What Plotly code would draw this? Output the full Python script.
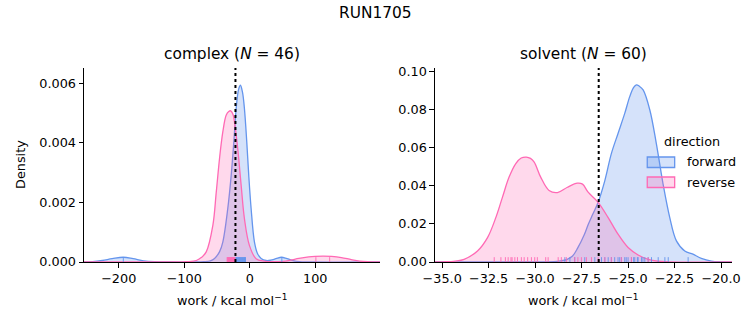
import plotly.graph_objects as go

# ---------------- data ----------------
suptitle = "RUN1705"
panel_titles = ["complex (<i>N</i> = 46)", "solvent (<i>N</i> = 60)"]
directions = ["forward", "reverse"]
legend_title = "direction"

# complex KDE curves (work, density)
cx_fwd_x = [-253, -240, -225, -210, -193, -178, -162, -145, -120, -90, -70, -60, -53.7, -46, -41.1,
            -33.5, -28.3, -24.3, -20.7, -17, -14.2, -11, -8.1, -4.5, -1.5, 2.1, 7.2, 12, 17.4,
            25, 32, 40, 48.5, 57, 66, 76, 90, 199]
cx_fwd_y = [0, 0.00001, 0.00005, 0.00011, 0.00016, 0.00011, 0.00004, 0.00001, 0, 0, 0.00001,
            0.00004, 0.00012, 0.00035, 0.00067, 0.0018, 0.00291, 0.00403, 0.00516, 0.0058,
            0.00594, 0.0057, 0.00516, 0.00403, 0.00291, 0.0018, 0.00067, 0.00028, 0.00012,
            0.00005, 0.00006, 0.00011, 0.00016, 0.00011, 0.00005, 0.00001, 0, 0]
cx_rev_x = [-253, -120, -95, -81.6, -74, -66.4, -56.3, -51.1, -46.1, -41.1, -36, -32, -28.9,
            -25.5, -23.3, -18.3, -13.1, -8.1, -0.5, 9.7, 22.4, 35, 50, 62, 75, 90, 100, 112,
            125, 140, 155, 168, 180, 199]
cx_rev_y = [0, 0, 0.00001, 0.00005, 0.00015, 0.00034, 0.00123, 0.00235, 0.00348, 0.00437,
            0.00493, 0.00506, 0.00508, 0.00496, 0.00471, 0.00381, 0.00258, 0.00146, 0.00056,
            0.00011, 0.00003, 0.00001, 0.00002, 0.00006, 0.00012, 0.00017, 0.00019, 0.0002,
            0.00019, 0.00015, 0.00008, 0.00003, 0.00001, 0]

# solvent KDE curves (work, density)
sv_fwd_x = [-35.39, -30, -29, -28.62, -28.3, -28.0, -27.7, -27.37, -27.15, -26.9, -26.61, -26.25,
            -25.9, -25.54, -25.18, -24.91, -24.7, -24.55, -24.4, -24.19, -23.83, -23.48, -23.12,
            -22.76, -22.4, -21.95, -21.51, -21.06, -20.52, -19.98, -19.41]
sv_fwd_y = [0, 0, 0.0002, 0.0006, 0.0013, 0.003, 0.0075, 0.014, 0.0195, 0.025, 0.0313, 0.0427,
            0.0568, 0.0674, 0.0779, 0.0867, 0.0915, 0.0929, 0.0922, 0.0902, 0.0797, 0.0621,
            0.041, 0.0234, 0.0111, 0.0058, 0.0041, 0.0019, 0.0005, 0.0001, 0]
sv_rev_x = [-35.39, -34.9, -34.3, -33.82, -33.1, -32.56, -32.11, -31.76, -31.4, -31.04, -30.75,
            -30.47, -30.25, -30.05, -29.7, -29.25, -28.8, -28.26, -27.73, -27.45, -27.15, -26.61,
            -26.08, -25.54, -25.0, -24.46, -23.92, -23.39, -22.8, -19.41]
sv_rev_y = [0, 0.0001, 0.0005, 0.0014, 0.0058, 0.0128, 0.0234, 0.0339, 0.0445, 0.0516, 0.0545,
            0.0550, 0.0543, 0.0524, 0.0445, 0.0375, 0.0364, 0.0392, 0.0413, 0.0408, 0.0366,
            0.0313, 0.0234, 0.0146, 0.0076, 0.0037, 0.0014, 0.0004, 0.0001, 0]

# rug values (individual work values)
cx_fwd_rug = [-193, -21.5, -20.5, -19.8, -19, -18.3, -17.5, -16.8, -16, -15.3, -14.5, -13.8, -13,
              -12.2, -11.5, -10.8, -10, -9.2, -8.5, -7.8, -7, -6.5, 49]
cx_rev_rug = [-34.5, -33.8, -33, -32.4, -31.7, -31, -30.5, -30, -29.4, -28.9, -28.3, -27.8, -27.2,
              -26.7, -26.1, -25.5, -25, -24.4, -23.8, -23.3, -22.5, 101, 122]
sv_fwd_rug = [-28.4, -28.13, -27.87, -27.33, -26.79, -26.43, -26.25, -26.07, -25.9, -25.72,
              -25.54, -25.45, -25.36, -25.18, -25.1, -25.0, -24.82, -24.7, -24.64, -24.5, -24.46,
              -24.28, -24.2, -24.1, -23.92, -23.74, -23.38, -23.02, -22.84, -21.77]
sv_rev_rug = [-32.2, -31.84, -31.6, -31.45, -31.3, -31.24, -31.09, -30.95, -30.74, -30.59, -30.4,
              -30.2, -30.02, -29.88, -29.43, -29.3, -28.76, -28.59, -28.32, -27.87, -27.7, -27.51,
              -27.24, -26.97, -26.61, -26.25, -25.9, -25.36, -24.82, -23.92]

# vertical reference lines (work)
cx_vline = -21.8
sv_vline = -26.58

# axis settings
cx_xrange = [-253, 199]
cx_yrange = [0, 0.00652]
sv_xrange = [-35.39, -19.41]
sv_yrange = [0, 0.1017]
cx_xticks = [-200, -100, 0, 100]
cx_yticks = [0, 0.002, 0.004, 0.006]
sv_xticks = [-35.0, -32.5, -30.0, -27.5, -25.0, -22.5, -20.0]
sv_yticks = [0, 0.02, 0.04, 0.06, 0.08, 0.10]

# ---------------- styling ----------------
FONT = "DejaVu Sans"
colors = {"forward": "#6495ED", "reverse": "#FF69B4"}
fills = {"forward": "rgba(100,149,237,0.27)", "reverse": "rgba(255,105,180,0.25)"}
rugcol = {"forward": "rgba(100,149,237,0.9)", "reverse": "rgba(255,105,180,0.9)"}

L, R, T, B = 84, 19, 68, 63
W, H = 753, 325
pw = W - L - R
ph = H - T - B


def px_to_paper_x(p):
    return (p - L) / pw


def px_to_paper_y(p):
    return (H - B - p) / ph


fig = go.Figure()

panels = [
    ("x", "y", {"forward": (cx_fwd_x, cx_fwd_y), "reverse": (cx_rev_x, cx_rev_y)},
     {"forward": cx_fwd_rug, "reverse": cx_rev_rug}, cx_vline),
    ("x2", "y2", {"forward": (sv_fwd_x, sv_fwd_y), "reverse": (sv_rev_x, sv_rev_y)},
     {"forward": sv_fwd_rug, "reverse": sv_rev_rug}, sv_vline),
]

shapes = []
for pi, (xa, ya, curves, rugs, vline) in enumerate(panels):
    for d in directions:
        xs, ys = curves[d]
        fig.add_trace(go.Scatter(
            x=xs, y=ys, mode="lines", xaxis=xa, yaxis=ya,
            line=dict(color=colors[d], width=1.3, shape="spline", smoothing=1.0),
            fill="tozeroy", fillcolor=fills[d], name=d, showlegend=False,
            hoverinfo="skip"))
        for v in rugs[d]:
            shapes.append(dict(type="line", xref=xa, yref=ya + " domain", x0=v, x1=v,
                               y0=0, y1=0.025, line=dict(color=rugcol[d], width=1)))
    shapes.append(dict(type="line", xref=xa, yref=ya + " domain", x0=vline, x1=vline,
                       y0=0, y1=1, line=dict(color="black", width=2, dash="dot")))

# hand-drawn legend (matplotlib style patches)
legend_rows = [(directions[0], 157, 167.5, 161.5), (directions[1], 177, 187.5, 182)]
annotations = [
    dict(text=legend_title, xref="paper", yref="paper", x=px_to_paper_x(694),
         y=px_to_paper_y(141.5), showarrow=False, font=dict(family=FONT, size=12.8),
         xanchor="center", yanchor="middle"),
]
for d, y0, y1, yt in legend_rows:
    shapes.append(dict(type="rect", xref="paper", yref="paper",
                       x0=px_to_paper_x(649), x1=px_to_paper_x(676.5),
                       y0=px_to_paper_y(y1), y1=px_to_paper_y(y0),
                       fillcolor=fills[d], line=dict(color=colors[d], width=1.3)))
    annotations.append(dict(text=d, xref="paper", yref="paper", x=px_to_paper_x(687),
                            y=px_to_paper_y(yt), showarrow=False,
                            font=dict(family=FONT, size=12.8), xanchor="left",
                            yanchor="middle"))

axis_common = dict(showgrid=False, zeroline=False, showline=True, linecolor="black",
                   linewidth=1, ticks="outside", ticklen=4.5, tickcolor="black", tickwidth=1,
                   tickfont=dict(family=FONT, size=12.8, color="black"), mirror=False)

annotations += [
    dict(text=suptitle, xref="paper", yref="paper", x=px_to_paper_x(376.5),
         y=px_to_paper_y(13), showarrow=False, font=dict(family=FONT, size=15.4),
         xanchor="center", yanchor="middle"),
    dict(text=panel_titles[0], xref="paper", yref="paper", x=px_to_paper_x(232.5),
         y=px_to_paper_y(54), showarrow=False, font=dict(family=FONT, size=15.4),
         xanchor="center", yanchor="middle"),
    dict(text=panel_titles[1], xref="paper", yref="paper", x=px_to_paper_x(585),
         y=px_to_paper_y(54), showarrow=False, font=dict(family=FONT, size=15.4),
         xanchor="center", yanchor="middle"),
    dict(text="work / kcal mol<sup>−1</sup>", xref="paper", yref="paper",
         x=px_to_paper_x(232.5), y=px_to_paper_y(300), showarrow=False,
         font=dict(family=FONT, size=12.8), xanchor="center", yanchor="middle"),
    dict(text="work / kcal mol<sup>−1</sup>", xref="paper", yref="paper",
         x=px_to_paper_x(585), y=px_to_paper_y(300), showarrow=False,
         font=dict(family=FONT, size=12.8), xanchor="center", yanchor="middle"),
    dict(text="Density", xref="paper", yref="paper", x=px_to_paper_x(21),
         y=px_to_paper_y(164.7), showarrow=False, textangle=-90,
         font=dict(family=FONT, size=12.8), xanchor="center", yanchor="middle"),
]

fig.update_layout(
    width=W, height=H,
    margin=dict(l=L, r=R, t=T, b=B),
    paper_bgcolor="white", plot_bgcolor="white",
    font=dict(family=FONT, color="black"),
    xaxis=dict(domain=[0, px_to_paper_x(381)], range=cx_xrange, tickvals=cx_xticks,
               anchor="y", **axis_common),
    yaxis=dict(domain=[0, 1], range=cx_yrange, tickvals=cx_yticks, tickformat=".3f",
               anchor="x", **axis_common),
    xaxis2=dict(domain=[px_to_paper_x(436), 1], range=sv_xrange, tickvals=sv_xticks,
                tickformat=".1f", anchor="y2", **axis_common),
    yaxis2=dict(domain=[0, 1], range=sv_yrange, tickvals=sv_yticks, tickformat=".2f",
                anchor="x2", **axis_common),
    shapes=shapes,
    showlegend=False,
    annotations=annotations,
)

fig.write_html("out.html")
